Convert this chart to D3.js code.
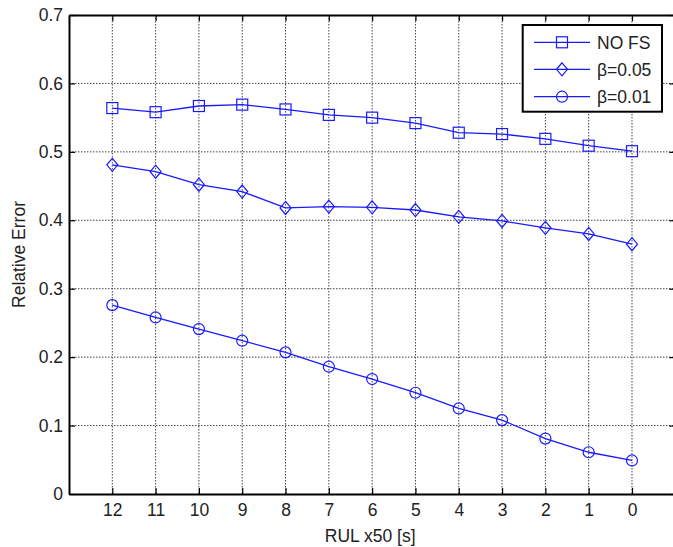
<!DOCTYPE html>
<html>
<head>
<meta charset="utf-8">
<script src="https://cdn.jsdelivr.net/npm/d3@7"></script>
<style>
  html, body { margin: 0; padding: 0; background: #fff; }
  svg { display: block; font-family: Arial, "Liberation Sans", sans-serif; }
</style>
</head>
<body>
<svg id="chart" width="673" height="547"></svg>
<script>
// ---- data ----
const rul = [12, 11, 10, 9, 8, 7, 6, 5, 4, 3, 2, 1, 0];
const noFS = [0.564, 0.558, 0.567, 0.569, 0.562, 0.554, 0.550, 0.542, 0.528, 0.526, 0.519, 0.509, 0.501];
const beta005 = [0.481, 0.471, 0.452, 0.442, 0.418, 0.420, 0.419, 0.415, 0.405, 0.399, 0.389, 0.380, 0.365];
const beta001 = [0.276, 0.258, 0.241, 0.224, 0.207, 0.186, 0.168, 0.148, 0.125, 0.108, 0.081, 0.061, 0.049];
const seriesNames = ["NO FS", "\u03B2=0.05", "\u03B2=0.01"];
const markers = ["square", "diamond", "circle"];
const yTicks = [0, 0.1, 0.2, 0.3, 0.4, 0.5, 0.6, 0.7];
const xLabel = "RUL x50 [s]";
const yLabel = "Relative Error";

// ---- layout ----
const svg = d3.select("#chart");
const L = 69, R = 675.3, T = 15, B = 494;
const x = d3.scaleLinear().domain([13, -1]).range([L, R]);
const y = d3.scaleLinear().domain([0, 0.7]).range([B, T]);
const blue = "#1a1aff";
const fs = 17.5;

// grid
const grid = svg.append("g");
grid.selectAll("line.v").data(rul).enter().append("line")
  .attr("x1", d => x(d)).attr("x2", d => x(d)).attr("y1", T).attr("y2", B)
  .attr("stroke", "#444").attr("stroke-width", 1).attr("stroke-dasharray", "1.5,1.5");
grid.selectAll("line.h").data(yTicks.filter(d => d > 0 && d < 0.7)).enter().append("line")
  .attr("y1", d => y(d)).attr("y2", d => y(d)).attr("x1", L).attr("x2", R)
  .attr("stroke", "#444").attr("stroke-width", 1).attr("stroke-dasharray", "1.5,1.5");

// axes
const tk = 6;
const xb = svg.append("g").attr("transform", `translate(0,${B})`)
  .call(d3.axisBottom(x).tickValues(rul).tickFormat(d3.format("d")).tickSizeInner(-tk).tickSizeOuter(0).tickPadding(10));
const xt = svg.append("g").attr("transform", `translate(0,${T})`)
  .call(d3.axisTop(x).tickValues(rul).tickFormat("").tickSizeInner(-tk).tickSizeOuter(0));
const yl = svg.append("g").attr("transform", `translate(${L},0)`)
  .call(d3.axisLeft(y).tickValues(yTicks).tickFormat(d => d === 0 ? "0" : d3.format(".1f")(d)).tickSizeInner(-tk).tickSizeOuter(0).tickPadding(6));
const yr = svg.append("g").attr("transform", `translate(${R},0)`)
  .call(d3.axisRight(y).tickValues(yTicks).tickFormat("").tickSizeInner(-tk).tickSizeOuter(0));
[xb, xt, yl, yr].forEach(g => {
  g.select(".domain").attr("stroke", "#000").attr("stroke-width", 2);
  g.selectAll(".tick line").attr("stroke", "#000").attr("stroke-width", 1.2);
  g.selectAll(".tick text").attr("fill", "#222").style("font-size", fs + "px").style("font-family", "Arial, 'Liberation Sans', sans-serif");
});

// axis titles
svg.append("text").attr("x", (L + R) / 2 - 2).attr("y", 542).attr("text-anchor", "middle")
  .style("font-size", fs + "px").attr("fill", "#222").text(xLabel);
svg.append("text").attr("transform", `translate(24.5,${(T + B) / 2}) rotate(-90)`).attr("text-anchor", "middle")
  .style("font-size", fs + "px").attr("fill", "#222").text(yLabel);

// marker drawing
function drawMarker(g, type, cx, cy) {
  if (type === "square") {
    g.append("rect").attr("x", cx - 5.5).attr("y", cy - 5.5).attr("width", 11).attr("height", 11)
      .attr("fill", "none").attr("stroke", blue).attr("stroke-width", 1.2);
  } else if (type === "diamond") {
    g.append("path").attr("d", `M${cx},${cy - 6.5}L${cx + 5.5},${cy}L${cx},${cy + 6.5}L${cx - 5.5},${cy}Z`)
      .attr("fill", "none").attr("stroke", blue).attr("stroke-width", 1.2);
  } else {
    g.append("circle").attr("cx", cx).attr("cy", cy).attr("r", 5.5)
      .attr("fill", "none").attr("stroke", blue).attr("stroke-width", 1.2);
  }
}

const allSeries = [noFS, beta005, beta001];
const line = d3.line().x((d, i) => x(rul[i])).y(d => y(d));
allSeries.forEach((s, k) => {
  const g = svg.append("g");
  g.append("path").datum(s).attr("d", line).attr("fill", "none").attr("stroke", blue).attr("stroke-width", 1.3);
  s.forEach((v, i) => drawMarker(g, markers[k], x(rul[i]), y(v)));
});

// legend
const lg = svg.append("g");
lg.append("rect").attr("x", 522.7).attr("y", 25).attr("width", 139.3).attr("height", 86.7)
  .attr("fill", "#fff").attr("stroke", "#000").attr("stroke-width", 2);
const ly = [42.3, 69.3, 96.7];
seriesNames.forEach((n, k) => {
  lg.append("line").attr("x1", 534).attr("x2", 590).attr("y1", ly[k]).attr("y2", ly[k])
    .attr("stroke", blue).attr("stroke-width", 1.3);
  drawMarker(lg, markers[k], 562, ly[k]);
  lg.append("text").attr("x", 597).attr("y", ly[k]).attr("dy", "0.36em")
    .style("font-size", fs + "px").attr("fill", "#222").text(n);
});
</script>
</body>
</html>
